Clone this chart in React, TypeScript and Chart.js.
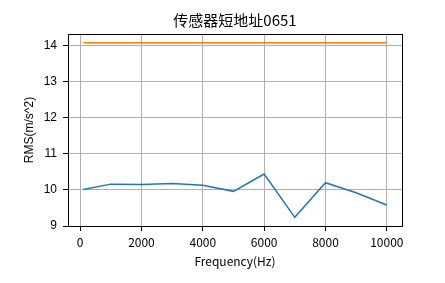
import React, { useEffect, useRef } from "react";
import { Chart, registerables } from "chart.js";

Chart.register(...registerables);

const frequencies = [100, 1000, 2000, 3000, 4000, 5000, 6000, 7000, 8000, 9000, 10000];
const rmsValues = [10.01, 10.16, 10.15, 10.18, 10.13, 9.96, 10.44, 9.24, 10.2, 9.92, 9.58];
const limitValues = [14.08, 14.08, 14.08, 14.08, 14.08, 14.08, 14.08, 14.08, 14.08, 14.08, 14.08];
const xTicks = [0, 2000, 4000, 6000, 8000, 10000];
const yTicks = [9, 10, 11, 12, 13, 14];
const titleText = "传感器短地址0651";
const xLabel = "Frequency(Hz)";
const yLabel = "RMS(m/s^2)";

const W = 445;
const H = 283;

export default function App() {
  const ref = useRef<HTMLCanvasElement | null>(null);

  useEffect(() => {
    if (!ref.current) return;
    const decor = {
      id: "decor",
      afterDraw(chart: any) {
        const ctx = chart.ctx;
        const a = chart.chartArea;
        ctx.save();
        ctx.strokeStyle = "#000";
        ctx.lineWidth = 1;
        ctx.strokeRect(Math.round(a.left) + 0.5, Math.round(a.top) + 0.5, Math.round(a.right - a.left), Math.round(a.bottom - a.top));
        ctx.fillStyle = "#000";
        ctx.textAlign = "center";
        ctx.textBaseline = "middle";
        ctx.font = '15px "Noto Sans CJK SC"';
        ctx.fillText(titleText, (a.left + a.right) / 2, 20);
        ctx.font = '12px "Noto Sans CJK SC"';
        ctx.fillText(xLabel, (a.left + a.right) / 2, 261);
        ctx.translate(30, (a.top + a.bottom) / 2);
        ctx.rotate(-Math.PI / 2);
        ctx.font = '12px "Liberation Sans Narrow", "Liberation Sans"';
        ctx.fillText(yLabel, 0, 0);
        ctx.restore();
      },
    };
    const chart = new Chart(ref.current, {
      type: "line",
      data: {
        datasets: [
          {
            data: frequencies.map((f, i) => ({ x: f, y: rmsValues[i] })),
            borderColor: "#1f77b4",
            backgroundColor: "#1f77b4",
            borderWidth: 1.5,
            pointRadius: 0,
            tension: 0,
          },
          {
            data: frequencies.map((f, i) => ({ x: f, y: limitValues[i] })),
            borderColor: "#ff7f0e",
            backgroundColor: "#ff7f0e",
            borderWidth: 1.5,
            pointRadius: 0,
            tension: 0,
          },
        ],
      },
      options: {
        animation: false,
        responsive: false,
        layout: { padding: { top: 34, left: 0, right: 43, bottom: 0 } },
        plugins: { legend: { display: false }, title: { display: false }, tooltip: { enabled: false } },
        scales: {
          x: {
            type: "linear",
            min: -395,
            max: 10495,
            afterBuildTicks: (s: any) => {
              s.ticks = xTicks.map((v) => ({ value: v }));
            },
            afterFit: (s: any) => {
              s.height = 57;
            },
            grid: { color: "#b0b0b0", lineWidth: 1, tickLength: 5, tickColor: "#000", tickWidth: 1 },
            border: { display: false },
            ticks: {
              color: "#000",
              font: { family: '"Noto Sans CJK SC"', size: 12 },
              padding: 4,
              maxRotation: 0,
              autoSkip: false,
              callback: (v: any) => String(v),
            },
          },
          y: {
            type: "linear",
            min: 9,
            max: 14.32,
            afterBuildTicks: (s: any) => {
              s.ticks = yTicks.map((v) => ({ value: v }));
            },
            afterFit: (s: any) => {
              s.width = 68;
            },
            grid: { color: "#b0b0b0", lineWidth: 1, tickLength: 5, tickColor: "#000", tickWidth: 1 },
            border: { display: false },
            ticks: {
              color: "#000",
              font: { family: '"Liberation Sans"', size: 12 },
              padding: 6,
              autoSkip: false,
              callback: (v: any) => String(v),
            },
          },
        },
      },
      plugins: [decor],
    });
    return () => chart.destroy();
  }, []);

  return (
    <div style={{ position: "fixed", left: 0, top: 0, width: W, height: H, background: "#fff" }}>
      <canvas ref={ref} width={W} height={H} style={{ width: W, height: H, display: "block" }} />
    </div>
  );
}
